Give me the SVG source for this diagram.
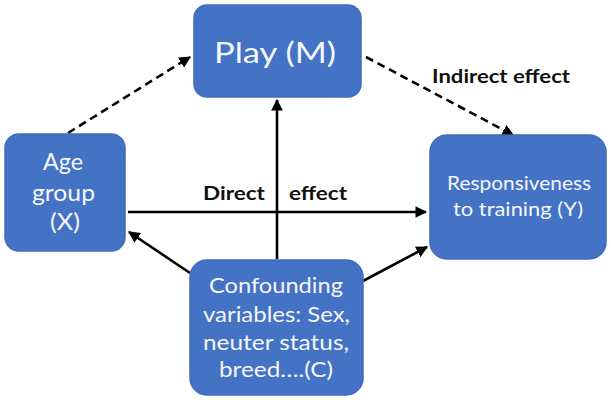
<svg xmlns="http://www.w3.org/2000/svg" width="611" height="400" viewBox="0 0 611 400">
<defs>
<marker id="ah" viewBox="0 0 10 10" refX="9" refY="5" markerWidth="4.5" markerHeight="4.5" orient="auto" markerUnits="strokeWidth"><path d="M0,0 L10,5 L0,10 z" fill="#000"/></marker>
<style>
.box{fill:#4472c4;stroke:#3f6bbd;stroke-width:1.5}
.t{fill:#f4f7fc;font-family:Lato,"Open Sans",sans-serif}
.lbl{fill:#111;font-family:Lato,"Liberation Sans",sans-serif;font-weight:bold;font-size:19px}
.c{stroke:#000;stroke-width:2.6;fill:none;marker-end:url(#ah)}
.d{stroke-dasharray:8,5}
</style>
</defs>
<rect width="611" height="400" fill="#fff"/>
<g id="connectors">
<path class="c d" d="M68,133 L190,57"/>
<path class="c d" d="M366,57 L513,135"/>
<path class="c" d="M128,212 L426,212"/>
<path class="c" d="M277,259 L277,100"/>
<path class="c" d="M190,273 L129,232"/>
<path class="c" d="M363,281 L427,247"/>
</g>
<g id="labels">
<text class="lbl" x="432" y="83" textLength="138" lengthAdjust="spacingAndGlyphs">Indirect effect</text>
<text class="lbl" x="203" y="200" textLength="62" lengthAdjust="spacingAndGlyphs">Direct</text>
<text class="lbl" x="289" y="200" textLength="58" lengthAdjust="spacingAndGlyphs">effect</text>
</g>
<g id="play">
<rect class="box" x="194" y="5" width="167" height="92" rx="13"/>
<text class="t" x="214" y="63" font-size="28" textLength="122" lengthAdjust="spacingAndGlyphs">Play (M)</text>
</g>
<g id="age">
<rect class="box" x="5" y="134" width="120" height="117" rx="14"/>
<text class="t" font-size="23"><tspan x="43" y="170" textLength="40" lengthAdjust="spacingAndGlyphs">Age</tspan><tspan x="32" y="201" textLength="63" lengthAdjust="spacingAndGlyphs">group</tspan><tspan x="50" y="230" textLength="30" lengthAdjust="spacingAndGlyphs">(X)</tspan></text>
</g>
<g id="resp">
<rect class="box" x="430" y="135" width="176" height="124" rx="17"/>
<text class="t" font-size="18.5"><tspan x="447" y="190" textLength="144" lengthAdjust="spacingAndGlyphs">Responsiveness</tspan><tspan x="453" y="216" textLength="130" lengthAdjust="spacingAndGlyphs">to training (Y)</tspan></text>
</g>
<g id="conf">
<rect class="box" x="190" y="260" width="173" height="135" rx="17"/>
<text class="t" font-size="22"><tspan x="209" y="293" textLength="134" lengthAdjust="spacingAndGlyphs">Confounding</tspan><tspan x="203" y="322" textLength="147" lengthAdjust="spacingAndGlyphs">variables: Sex,</tspan><tspan x="203" y="350" textLength="146" lengthAdjust="spacingAndGlyphs">neuter status,</tspan><tspan x="219" y="377" textLength="114" lengthAdjust="spacingAndGlyphs">breed….(C)</tspan></text>
</g>
</svg>
